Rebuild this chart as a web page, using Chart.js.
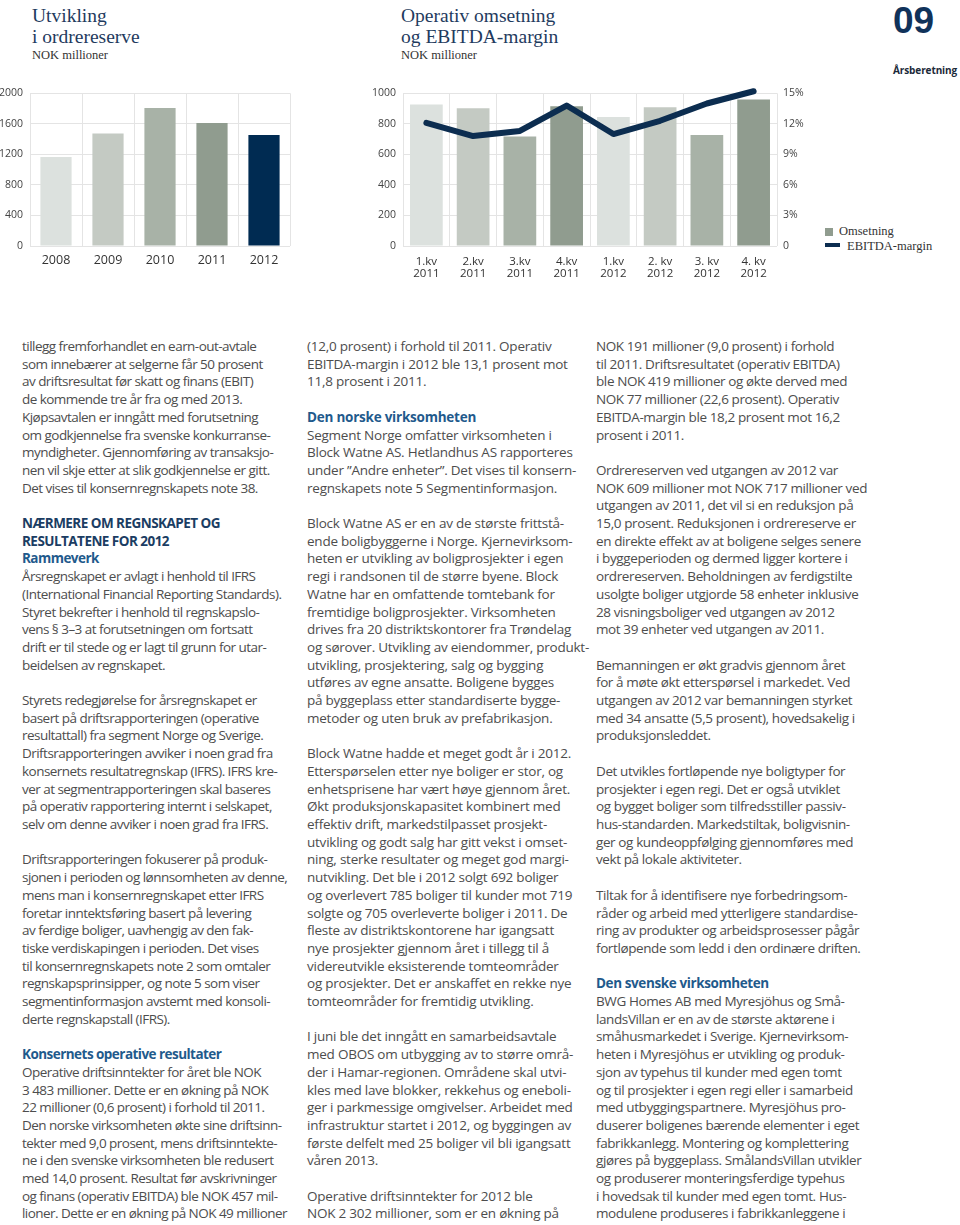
<!DOCTYPE html>
<html>
<head>
<meta charset="utf-8">
<script src="https://cdn.jsdelivr.net/npm/chart.js@4"></script>
<style>
body{margin:0;width:960px;height:1225px;position:relative;background:#fff;overflow:hidden;font-family:"Open Sans",sans-serif}
.title{position:absolute;font-family:"Liberation Serif",serif;color:#1f3b5e;font-size:19.5px;line-height:21.6px;white-space:nowrap}
.sub{position:absolute;top:48px;font-family:"Liberation Serif",serif;color:#333;font-size:12.5px;line-height:14px}
.box{position:absolute}
.leg{position:absolute;font-family:"Liberation Serif",serif;font-size:12.5px;color:#333;line-height:14px;white-space:nowrap}
.col{position:absolute;top:338px;white-space:pre;font-size:13.5px;line-height:17.7px;color:#4d4d4d}
.h{color:#1f5a8c;font-weight:700}
.hh{color:#1b3d63;font-weight:700}
</style>
</head>
<body>
<div class="title" style="left:32px;top:4.5px">Utvikling</div>
<div class="title" style="left:32px;top:26.1px">i ordrereserve</div>
<div class="sub" style="left:32px">NOK millioner</div>
<div class="title" style="left:401px;top:4.5px">Operativ omsetning</div>
<div class="title" style="left:401px;top:26.1px">og EBITDA-margin</div>
<div class="sub" style="left:401px">NOK millioner</div>

<div style="position:absolute;left:893px;top:2px;font-family:'Liberation Sans',sans-serif;font-size:37px;line-height:38px;font-weight:700;color:#10325a">09</div>
<div style="position:absolute;left:893px;top:62px;font-size:10px;line-height:16px;font-weight:700;color:#1b2a3a;white-space:nowrap;letter-spacing:-0.1px">Årsberetning</div>

<div class="box" style="left:0;top:80px"><canvas id="c1" width="292" height="200"></canvas></div>
<div class="box" style="left:360px;top:80px"><canvas id="c2" width="450" height="210"></canvas></div>

<div style="position:absolute;left:825px;top:228px;width:8px;height:8px;background:#909c8f"></div>
<div class="leg" style="left:839px;top:224px">Omsetning</div>
<div style="position:absolute;left:825px;top:243px;width:15px;height:4px;background:#0c2d50"></div>
<div class="leg" style="left:847px;top:239px">EBITDA-margin</div>

<div class="col" data-w="265" style="left:22px">tillegg fremforhandlet en earn-out-avtale
som innebærer at selgerne får 50 prosent
av driftsresultat før skatt og finans (EBIT)
de kommende tre år fra og med 2013.
Kjøpsavtalen er inngått med forutsetning
om godkjennelse fra svenske konkurranse-
myndigheter. Gjennomføring av transaksjo-
nen vil skje etter at slik godkjennelse er gitt.
Det vises til konsernregnskapets note 38.

<span class="hh">NÆRMERE OM REGNSKAPET OG
RESULTATENE FOR 2012</span>
<span class="h">Rammeverk</span>
Årsregnskapet er avlagt i henhold til IFRS
(International Financial Reporting Standards).
Styret bekrefter i henhold til regnskapslo-
vens § 3–3 at forutsetningen om fortsatt
drift er til stede og er lagt til grunn for utar-
beidelsen av regnskapet.

Styrets redegjørelse for årsregnskapet er
basert på driftsrapporteringen (operative
resultattall) fra segment Norge og Sverige.
Driftsrapporteringen avviker i noen grad fra
konsernets resultatregnskap (IFRS). IFRS kre-
ver at segmentrapporteringen skal baseres
på operativ rapportering internt i selskapet,
selv om denne avviker i noen grad fra IFRS.

Driftsrapporteringen fokuserer på produk-
sjonen i perioden og lønnsomheten av denne,
mens man i konsernregnskapet etter IFRS
foretar inntektsføring basert på levering
av ferdige boliger, uavhengig av den fak-
tiske verdiskapingen i perioden. Det vises
til konsernregnskapets note 2 som omtaler
regnskapsprinsipper, og note 5 som viser
segmentinformasjon avstemt med konsoli-
derte regnskapstall (IFRS).

<span class="h">Konsernets operative resultater</span>
Operative driftsinntekter for året ble NOK
3 483 millioner. Dette er en økning på NOK
22 millioner (0,6 prosent) i forhold til 2011.
Den norske virksomheten økte sine driftsinn-
tekter med 9,0 prosent, mens driftsinntekte-
ne i den svenske virksomheten ble redusert
med 14,0 prosent. Resultat før avskrivninger
og finans (operativ EBITDA) ble NOK 457 mil-
lioner. Dette er en økning på NOK 49 millioner</div>

<div class="col" data-w="282" style="left:307px">(12,0 prosent) i forhold til 2011. Operativ
EBITDA-margin i 2012 ble 13,1 prosent mot
11,8 prosent i 2011.

<span class="h">Den norske virksomheten</span>
Segment Norge omfatter virksomheten i
Block Watne AS. Hetlandhus AS rapporteres
under ”Andre enheter”. Det vises til konsern-
regnskapets note 5 Segmentinformasjon.

Block Watne AS er en av de største frittstå-
ende boligbyggerne i Norge. Kjernevirksom-
heten er utvikling av boligprosjekter i egen
regi i randsonen til de større byene. Block
Watne har en omfattende tomtebank for
fremtidige boligprosjekter. Virksomheten
drives fra 20 distriktskontorer fra Trøndelag
og sørover. Utvikling av eiendommer, produkt-
utvikling, prosjektering, salg og bygging
utføres av egne ansatte. Boligene bygges
på byggeplass etter standardiserte bygge-
metoder og uten bruk av prefabrikasjon.

Block Watne hadde et meget godt år i 2012.
Etterspørselen etter nye boliger er stor, og
enhetsprisene har vært høye gjennom året.
Økt produksjonskapasitet kombinert med
effektiv drift, markedstilpasset prosjekt-
utvikling og godt salg har gitt vekst i omset-
ning, sterke resultater og meget god margi-
nutvikling. Det ble i 2012 solgt 692 boliger
og overlevert 785 boliger til kunder mot 719
solgte og 705 overleverte boliger i 2011. De
fleste av distriktskontorene har igangsatt
nye prosjekter gjennom året i tillegg til å
videreutvikle eksisterende tomteområder
og prosjekter. Det er anskaffet en rekke nye
tomteområder for fremtidig utvikling.

I juni ble det inngått en samarbeidsavtale
med OBOS om utbygging av to større områ-
der i Hamar-regionen. Områdene skal utvi-
kles med lave blokker, rekkehus og eneboli-
ger i parkmessige omgivelser. Arbeidet med
infrastruktur startet i 2012, og byggingen av
første delfelt med 25 boliger vil bli igangsatt
våren 2013.

Operative driftsinntekter for 2012 ble
NOK 2 302 millioner, som er en økning på</div>

<div class="col" data-w="271" style="left:596px">NOK 191 millioner (9,0 prosent) i forhold
til 2011. Driftsresultatet (operativ EBITDA)
ble NOK 419 millioner og økte derved med
NOK 77 millioner (22,6 prosent). Operativ
EBITDA-margin ble 18,2 prosent mot 16,2
prosent i 2011.

Ordrereserven ved utgangen av 2012 var
NOK 609 millioner mot NOK 717 millioner ved
utgangen av 2011, det vil si en reduksjon på
15,0 prosent. Reduksjonen i ordrereserve er
en direkte effekt av at boligene selges senere
i byggeperioden og dermed ligger kortere i
ordrereserven. Beholdningen av ferdigstilte
usolgte boliger utgjorde 58 enheter inklusive
28 visningsboliger ved utgangen av 2012
mot 39 enheter ved utgangen av 2011.

Bemanningen er økt gradvis gjennom året
for å møte økt etterspørsel i markedet. Ved
utgangen av 2012 var bemanningen styrket
med 34 ansatte (5,5 prosent), hovedsakelig i
produksjonsleddet.

Det utvikles fortløpende nye boligtyper for
prosjekter i egen regi. Det er også utviklet
og bygget boliger som tilfredsstiller passiv-
hus-standarden. Markedstiltak, boligvisnin-
ger og kundeoppfølging gjennomføres med
vekt på lokale aktiviteter.

Tiltak for å identifisere nye forbedringsom-
råder og arbeid med ytterligere standardise-
ring av produkter og arbeidsprosesser pågår
fortløpende som ledd i den ordinære driften.

<span class="h">Den svenske virksomheten</span>
BWG Homes AB med Myresjöhus og Små-
landsVillan er en av de største aktørene i
småhusmarkedet i Sverige. Kjernevirksom-
heten i Myresjöhus er utvikling og produk-
sjon av typehus til kunder med egen tomt
og til prosjekter i egen regi eller i samarbeid
med utbyggingspartnere. Myresjöhus pro-
duserer boligenes bærende elementer i eget
fabrikkanlegg. Montering og komplettering
gjøres på byggeplass. SmålandsVillan utvikler
og produserer monteringsferdige typehus
i hovedsak til kunder med egen tomt. Hus-
modulene produseres i fabrikkanleggene i</div>

<script>
// ordrereserve per år
const years = ['2008', '2009', '2010', '2011', '2012'];
const orderReserve = [1167, 1475, 1808, 1612, 1454];
const yearColors = ['#dce1de', '#c4cac3', '#a8b2a7', '#909c8f', '#002b52'];

// operativ omsetning og EBITDA-margin per kvartal
const quarters = [
  ['1.kv', '2011'], ['2.kv', '2011'], ['3.kv', '2011'], ['4.kv', '2011'],
  ['1.kv', '2012'], ['2. kv', '2012'], ['3. kv', '2012'], ['4. kv', '2012']
];
const revenue = [927, 902, 717, 915, 844, 908, 727, 960];
const ebitdaMargin = [12.1, 10.8, 11.3, 13.8, 11.0, 12.3, 14.0, 15.2];
const quarterColors = ['#dce1de', '#c4cac3', '#a8b2a7', '#909c8f', '#dce1de', '#c4cac3', '#a8b2a7', '#909c8f'];

const gridColor = '#e4e4e4';
Chart.defaults.font.family = '"Open Sans", sans-serif';

new Chart(document.getElementById('c1'), {
  type: 'bar',
  data: {
    labels: years,
    datasets: [{
      label: 'Ordrereserve',
      data: orderReserve,
      backgroundColor: yearColors,
      barPercentage: 0.6,
      categoryPercentage: 1
    }]
  },
  options: {
    responsive: false,
    animation: false,
    devicePixelRatio: 1,
    layout: { padding: { top: 6, right: 2 } },
    plugins: { legend: { display: false }, tooltip: { enabled: false } },
    scales: {
      x: {
        grid: { color: gridColor, drawTicks: false, offset: true },
        border: { display: false },
        ticks: { color: '#333', font: { size: 12.5 }, padding: 7 },
        afterFit: s => { s.height = 34; }
      },
      y: {
        min: 0, max: 2000,
        grid: { color: gridColor, drawTicks: false },
        border: { display: false },
        ticks: { stepSize: 400, color: '#444', font: { size: 10.5 }, padding: 7,
          callback: v => String(v) },
        afterFit: s => { s.width = 30; }
      }
    }
  }
});

new Chart(document.getElementById('c2'), {
  type: 'bar',
  data: {
    labels: quarters,
    datasets: [{
      type: 'line',
      label: 'EBITDA-margin',
      data: ebitdaMargin,
      yAxisID: 'y1',
      borderColor: '#0c2d50',
      borderWidth: 6,
      borderCapStyle: 'round',
      borderJoinStyle: 'round',
      pointRadius: 0,
      tension: 0,
      clip: false,
      order: 0
    }, {
      label: 'Omsetning',
      data: revenue,
      yAxisID: 'y',
      backgroundColor: quarterColors,
      barPercentage: 0.7,
      categoryPercentage: 1,
      order: 1
    }]
  },
  options: {
    responsive: false,
    animation: false,
    devicePixelRatio: 1,
    layout: { padding: { top: 6 } },
    plugins: { legend: { display: false }, tooltip: { enabled: false } },
    scales: {
      x: {
        grid: { color: gridColor, drawTicks: false, offset: true },
        border: { display: false },
        ticks: { color: '#333', font: { size: 11.5, lineHeight: 1.1 }, padding: 9, maxRotation: 0 },
        afterFit: s => { s.height = 44; }
      },
      y: {
        min: 0, max: 1000,
        grid: { color: gridColor, drawTicks: false },
        border: { display: false },
        ticks: { stepSize: 200, color: '#444', font: { size: 10.5 }, padding: 7,
          callback: v => String(v) },
        afterFit: s => { s.width = 43; }
      },
      y1: {
        position: 'right',
        min: 0, max: 15,
        grid: { display: false, drawTicks: false },
        border: { display: false },
        ticks: { stepSize: 3, color: '#444', font: { size: 10.5 }, padding: 6,
          callback: v => v === 0 ? '0' : v + '%' },
        afterFit: s => { s.width = 33; }
      }
    }
  }
});

// tilpass tekstkolonnene til bredden i originalen med sperring
const mctx = document.createElement('canvas').getContext('2d');
mctx.font = '13.5px "Open Sans"';
document.querySelectorAll('.col').forEach(c => {
  let widest = 0, chars = 1;
  c.textContent.split('\n').forEach(line => {
    const w = mctx.measureText(line).width;
    if (w > widest) { widest = w; chars = line.length; }
  });
  c.style.letterSpacing = ((parseFloat(c.dataset.w) - widest) / chars) + 'px';
});
</script>
</body>
</html>
